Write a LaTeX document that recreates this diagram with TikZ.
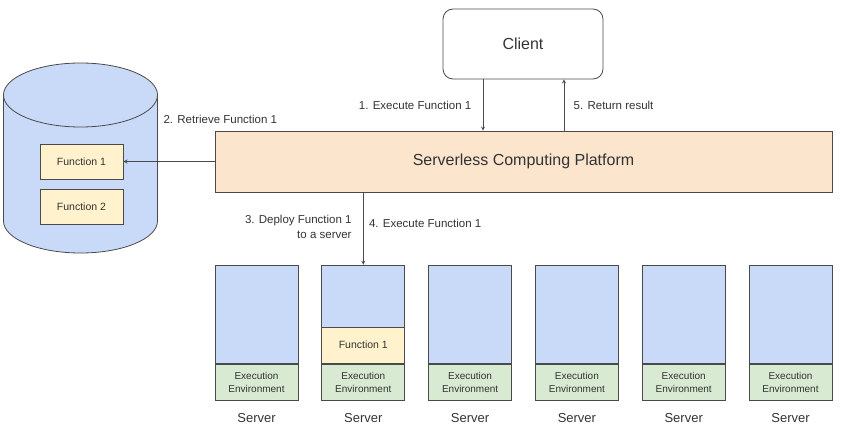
\documentclass[tikz,border=0pt]{standalone}
\usepackage{fontspec}
\setmainfont{Liberation Sans}
\usetikzlibrary{positioning}
\definecolor{boxblue}{HTML}{C9DAF8}
\definecolor{boxorange}{HTML}{FCE5CD}
\definecolor{boxyellow}{HTML}{FFF2CC}
\definecolor{boxgreen}{HTML}{D9EAD3}
\definecolor{linegray}{HTML}{4A4A4A}
\definecolor{txtgray}{HTML}{333333}
\tikzset{
  box/.style={draw=linegray, line width=0.8pt, inner sep=0pt, text=txtgray, align=center},
  flow/.style={-stealth, draw=linegray, line width=0.8pt},
  lbl/.style={font=\fontsize{11.5}{15}\selectfont, text=txtgray},
}
\begin{document}
\begin{tikzpicture}[x=1pt,y=-1pt]
  \useasboundingbox (0,0) rectangle (852,425);
  \def\cx{80.5};
  \def\rx{77};
  \def\ry{32};

  % storage cylinder
  \filldraw[fill=boxblue, draw=linegray, line width=0.8pt] (\cx-\rx,95) -- (\cx-\rx,221)
    arc[start angle=180, end angle=0, x radius=\rx, y radius=\ry] -- (\cx+\rx,95) -- cycle;
  \filldraw[fill=boxblue, draw=linegray, line width=0.8pt] (\cx,95) ellipse [x radius=\rx, y radius=\ry];
  \node[box, fill=boxyellow, minimum width=83pt, minimum height=35pt, font=\fontsize{10.5}{12}\selectfont] (fn1) at (81.5,161.5) {Function 1};
  \node[box, fill=boxyellow, minimum width=83pt, minimum height=35pt, font=\fontsize{10.5}{12}\selectfont] (fn2) at (81.5,206.5) {Function 2};

  % client and platform
  \node[box, rounded corners=10pt, minimum width=160pt, minimum height=70pt, font=\fontsize{16}{19}\selectfont] (client) at (523,44) {Client};
  \node[box, fill=boxorange, minimum width=617pt, minimum height=61pt, font=\fontsize{16}{19}\selectfont] (platform) at (523.5,161.5) {Serverless Computing Platform};

  % servers
  \foreach \i in {1,...,6}{
    \pgfmathsetmacro\sx{256.5+(\i-1)*106.8}
    \node[box, fill=boxgreen, minimum width=83pt, minimum height=36pt, font=\fontsize{10}{13}\selectfont] (env\i) at (\sx,382) {Execution\\Environment};
    \node[box, fill=boxblue, minimum width=83pt, minimum height=98pt, anchor=south] (srv\i) at (env\i.north) {};
    \node[lbl, font=\fontsize{13}{15}\selectfont, below=9pt of env\i] (srvname\i) {Server};
  }
  \node[box, fill=boxyellow, minimum width=83pt, minimum height=36pt, anchor=south, font=\fontsize{10.5}{12}\selectfont] (srvfn) at (env2.north) {Function 1};

  % requests
  \draw[flow] ([xshift=-40pt]client.south) -- ([xshift=-40pt]client.south |- platform.north)
    node[lbl, midway, left=8pt] (lblexec) {1. Execute Function 1};
  \draw[flow] ([xshift=41pt]client.south |- platform.north) -- ([xshift=41pt]client.south)
    node[lbl, midway, right=6pt] (lblret) {5. Return result};
  \draw[flow] (platform.west) -- (fn1.east);
  \node[lbl, anchor=west] (lblget) at (160,119) {2. Retrieve Function 1};
  \draw[flow] (platform.south -| srv2.north) -- (srv2.north)
    node[lbl, pos=0.47, left=8pt, align=right] (lbldeploy) {3. Deploy Function 1\\to a server}
    node[lbl, pos=0.43, right=2pt] (lblrun) {4. Execute Function 1};
\end{tikzpicture}
\end{document}
